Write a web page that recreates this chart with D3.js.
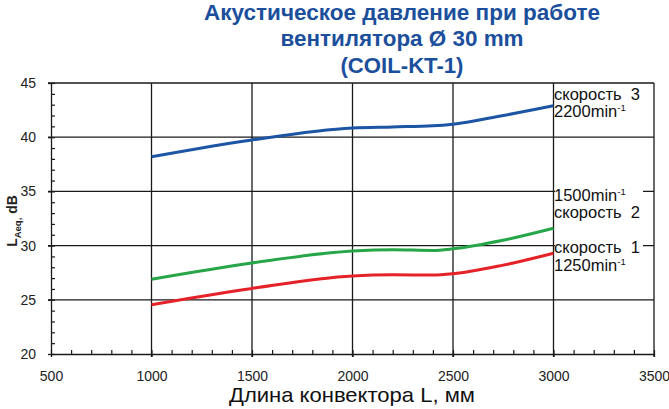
<!DOCTYPE html>
<html><head><meta charset="utf-8">
<script src="https://cdn.jsdelivr.net/npm/d3@7"></script>
<style>
html,body{margin:0;padding:0;background:#fff;}
text{font-family:"Liberation Sans",Arial,sans-serif;}
</style></head>
<body><svg id="c" width="669" height="409"></svg>
<script>
const lengths = [1000, 1500, 2000, 2200, 2400, 2500, 2750, 3000];
const speed3 = [38.2, 39.75, 40.85, 40.95, 41.05, 41.2, 42.0, 42.9];
const speed2 = [26.9, 28.4, 29.5, 29.62, 29.55, 29.7, 30.5, 31.6];
const speed1 = [24.55, 26.05, 27.2, 27.3, 27.28, 27.4, 28.2, 29.3];
const xTicks = [500, 1000, 1500, 2000, 2500, 3000, 3500];
const yTicks = [20, 25, 30, 35, 40, 45];
const titleLines = ["Акустическое давление при работе", "вентилятора Ø 30 mm", "(COIL-KT-1)"];
const titleWidths = [396, 243, 123];
const seriesColors = ["#e52228", "#27a649", "#1d55a5"];
const seriesLabels = [
  ["скорость 1", "1250min"],
  ["1500min", "скорость 2"],
  ["скорость 3", "2200min"]
];

const svg = d3.select("#c");
const x = d3.scaleLinear().domain([500, 3500]).range([51, 654]);
const y = d3.scaleLinear().domain([20, 45]).range([354, 83]);

// title
svg.append("g").selectAll("text").data(titleLines).join("text")
  .attr("x", 402).attr("y", (d, i) => 19.5 + i * 26.8)
  .attr("text-anchor", "middle")
  .attr("font-size", 21.5).attr("font-weight", "bold").attr("fill", "#1b4f9c")
  .attr("textLength", (d, i) => titleWidths[i]).attr("lengthAdjust", "spacingAndGlyphs")
  .text(d => d);

const grid = svg.append("g").attr("stroke", "#1a1a1a").attr("stroke-width", 1.3);
grid.selectAll(".h").data(yTicks.filter(v => v > 20)).join("line")
  .attr("x1", x(500) - 3).attr("x2", x(3500)).attr("y1", d => y(d)).attr("y2", d => y(d));
grid.selectAll(".v").data(xTicks.filter(v => v > 500)).join("line")
  .attr("x1", d => x(d)).attr("x2", d => x(d)).attr("y1", y(45)).attr("y2", y(20) + 3);

// axes
const xAxis = svg.append("g").attr("transform", `translate(0,${y(20)})`)
  .call(d3.axisBottom(x).tickValues(d3.range(500, 3501, 100)).tickSize(0).tickFormat(""));
xAxis.select(".domain").attr("stroke", "#1a1a1a").attr("stroke-width", 1.3);
xAxis.selectAll(".tick line").attr("y2", -4).attr("stroke", "#1a1a1a").attr("stroke-width", 1.2);
const xLab = svg.append("g").attr("transform", `translate(0,${y(20)})`)
  .call(d3.axisBottom(x).tickValues(xTicks).tickSize(3).tickPadding(14).tickFormat(d3.format("d")));
xLab.select(".domain").remove();
xLab.selectAll(".tick line").attr("stroke", "#1a1a1a").attr("stroke-width", 1.3);
xLab.selectAll("text").attr("font-size", 14).attr("fill", "#222").attr("font-family", "Liberation Sans, Arial, sans-serif");

const yAxis = svg.append("g").attr("transform", `translate(${x(500)},0)`)
  .call(d3.axisLeft(y).tickValues(d3.range(20, 45.1, 1)).tickSize(0).tickFormat(""));
yAxis.select(".domain").attr("stroke", "#1a1a1a").attr("stroke-width", 1.3);
yAxis.selectAll(".tick line").attr("x2", 4).attr("stroke", "#1a1a1a").attr("stroke-width", 1.2);
const yLab = svg.append("g").attr("transform", `translate(${x(500)},0)`)
  .call(d3.axisLeft(y).tickValues(yTicks).tickSize(3).tickPadding(12).tickFormat(d3.format("d")));
yLab.select(".domain").remove();
yLab.selectAll(".tick line").attr("stroke", "#1a1a1a").attr("stroke-width", 1.3);
yLab.selectAll("text").attr("font-size", 14).attr("fill", "#222").attr("font-family", "Liberation Sans, Arial, sans-serif");

// axis titles
svg.append("text").attr("x", 352).attr("y", 402).attr("text-anchor", "middle")
  .attr("font-size", 21).attr("fill", "#111")
  .attr("font-family", "Liberation Sans Narrow, Liberation Sans, Arial, sans-serif")
  .attr("textLength", 246).attr("lengthAdjust", "spacingAndGlyphs")
  .text("Длина конвектора L, мм");

const yt = svg.append("text").attr("transform", "translate(17,221) rotate(-90)")
  .attr("text-anchor", "middle").attr("font-size", 14).attr("font-weight", "bold").attr("fill", "#222");
yt.append("tspan").text("L");
yt.append("tspan").attr("font-size", 9.5).attr("dy", 3.5).text("Aeq,");
yt.append("tspan").attr("dy", -3.5).text(" dB");

// lines
const line = d3.line().x((d, i) => x(lengths[i])).y(d => y(d)).curve(d3.curveMonotoneX);
[speed1, speed2, speed3].forEach((s, k) => {
  svg.append("path").datum(s).attr("d", line)
    .attr("fill", "none").attr("stroke", seriesColors[k]).attr("stroke-width", 3);
});

// labels
const labelPos = [[253, 271], [201, 218], [100, 117]];
seriesLabels.forEach((lab, k) => {
  const g = svg.append("g");
  const top = labelPos[k][0] - 13, bottom = labelPos[k][1] + 5;
  g.append("rect").attr("x", x(3000) + 1.5).attr("y", top).attr("width", 88).attr("height", bottom - top).attr("fill", "#fff");
  lab.forEach((t, j) => {
    const tx = g.append("text").attr("x", 554).attr("y", labelPos[k][j]).attr("font-size", 16.5).attr("fill", "#111");
    if (t.startsWith("скорость")) {
      tx.text(t.replace(" ", "\u00a0 "));
    } else {
      tx.append("tspan").text(t);
      tx.append("tspan").attr("font-size", 9.5).attr("dy", -6.5).text("-1");
    }
  });
});
</script></body></html>
